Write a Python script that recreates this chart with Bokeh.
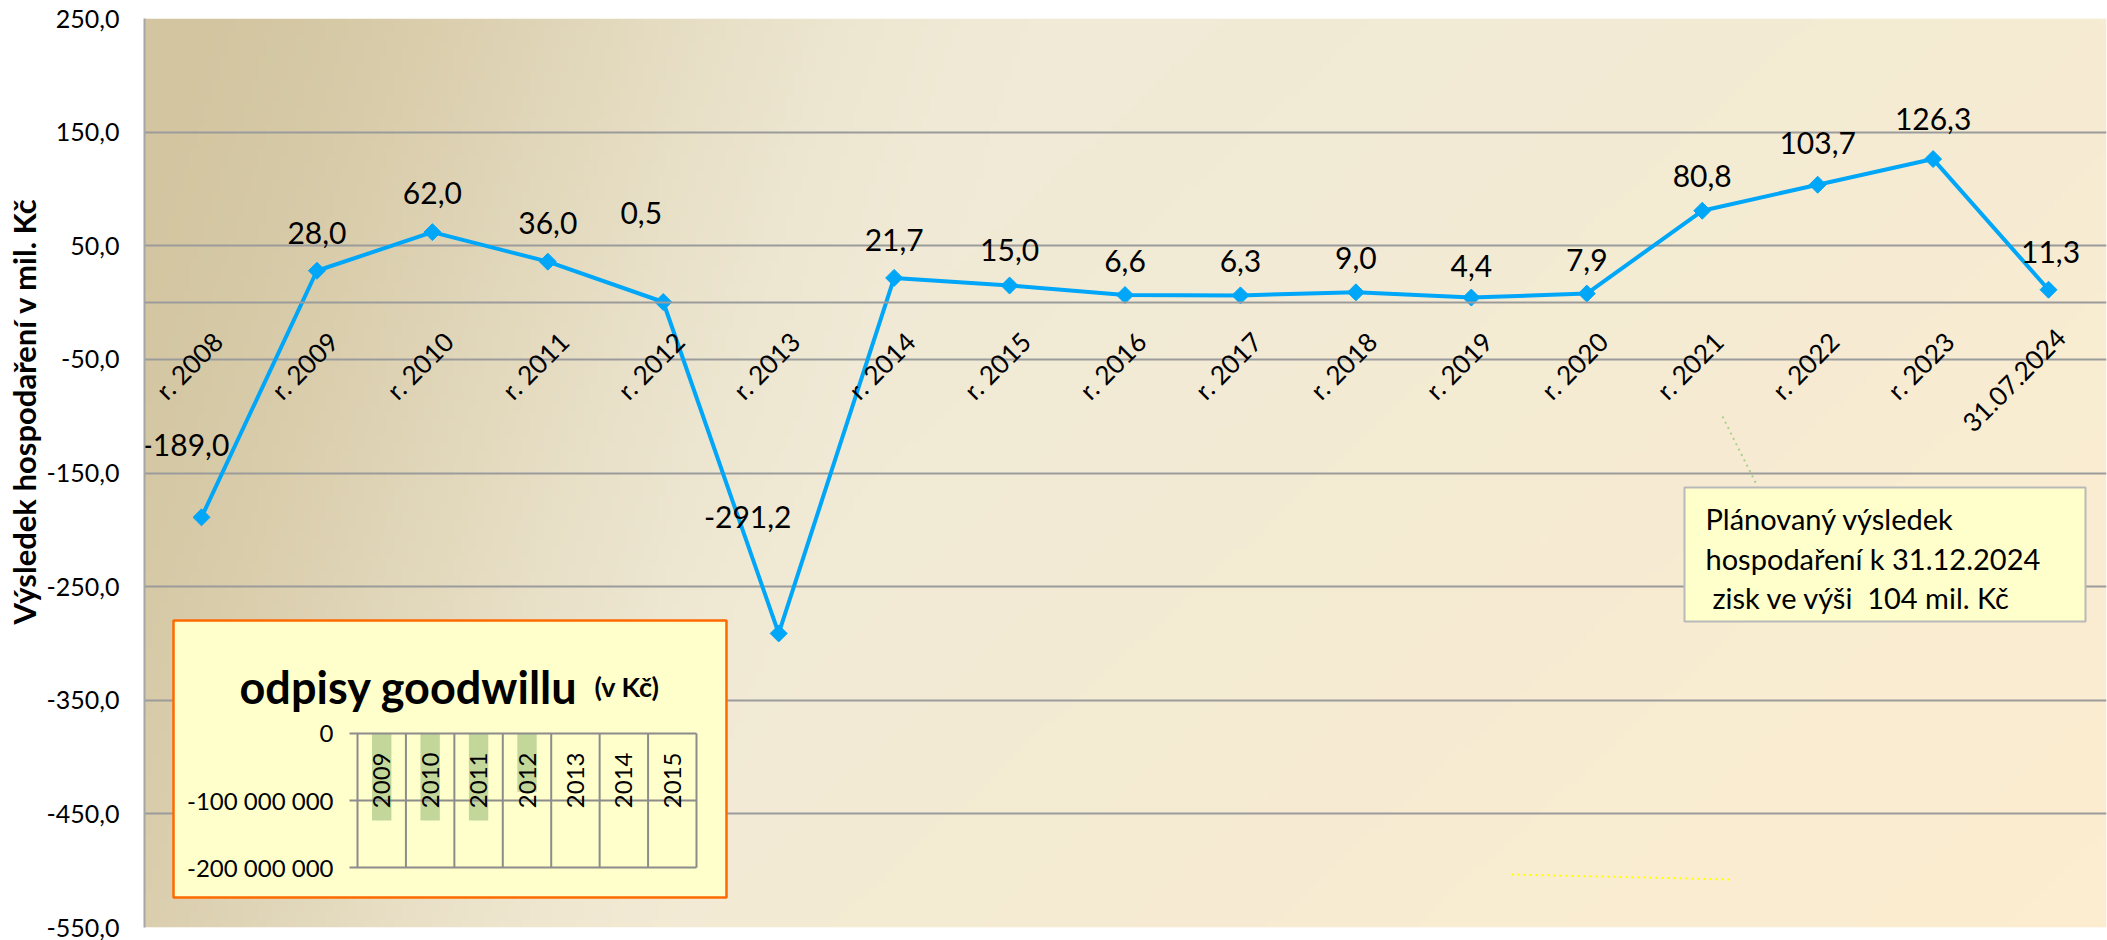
import numpy as np
from math import pi
from bokeh.plotting import figure
from bokeh.models import Range1d, FixedTicker, Span, Title
from bokeh.core.properties import value
from bokeh.embed import file_html
from bokeh.resources import INLINE

# ---------------- data ----------------
categories = ["r. 2008", "r. 2009", "r. 2010", "r. 2011", "r. 2012", "r. 2013",
              "r. 2014", "r. 2015", "r. 2016", "r. 2017", "r. 2018", "r. 2019",
              "r. 2020", "r. 2021", "r. 2022", "r. 2023", "31.07.2024"]
results = [-189.0, 28.0, 62.0, 36.0, 0.5, -291.2, 21.7, 15.0, 6.6, 6.3, 9.0,
           4.4, 7.9, 80.8, 103.7, 126.3, 11.3]
y_ticks = [250, 150, 50, -50, -150, -250, -350, -450, -550]
y_tick_labels = ["250,0", "150,0", "50,0", "-50,0", "-150,0", "-250,0",
                 "-350,0", "-450,0", "-550,0"]
y_title = "Výsledek hospodaření v mil. Kč"

inset_years = ["2009", "2010", "2011", "2012", "2013", "2014", "2015"]
inset_values = [-130e6, -130e6, -130e6, -87e6, 0, 0, 0]
inset_ticks = [0, -100e6, -200e6]
inset_tick_labels = ["0", "-100 000 000", "-200 000 000"]
inset_title = "odpisy goodwillu"
inset_unit = "(v Kč)"

note_lines = ["Plánovaný výsledek", "hospodaření k 31.12.2024",
              "zisk ve výši \u00a0104 mil. Kč"]

# label placement tweaks (pixels), style only
label_dx = [-16, 0, 0, 0, -22, -31, 0, 0, 0, 0, 0, 0, 0, 0, 0, 0, 2]
label_dy = [-72, -38, -39, -39, -89, -116, -38, -36, -34, -34, -34, -32, -34,
            -35, -42, -40, -38]

# ---------------- geometry (page pixels) ----------------
PW, PH = 2107, 940
FL, FR, FT, FB = 144, 2106, 18, 927
CAT0, STEP = 201, 115.44
FONT = "Lato"
BLUE = "#00a6f8"
GRID = "#9b9b9b"
TITLE_PX = 31
TITLE_LEN = 432          # approx. rendered length of the axis title
TITLE_CENTER = 408       # page y of its centre

x_start = (FL - CAT0) / STEP
x_end = (FR - CAT0) / STEP

p = figure(width=PW, height=PH, x_range=Range1d(x_start, x_end),
           y_range=Range1d(-550, 250), x_axis_type=None,
           output_backend="svg", toolbar_location=None,
           min_border_left=FL, min_border_right=PW - FR,
           min_border_top=FT, min_border_bottom=PH - FB,
           border_fill_color="white", outline_line_color=None)

# inset geometry
IL, IR, I0, I2 = 357, 696, 733, 867
iw = (IR - IL) / len(inset_years)
isc = 2e8 / (I2 - I0)
p.extra_x_ranges = {
    "px": Range1d(FL, FR),
    "ix": Range1d((FL - IL) / iw - 0.5, (FR - IL) / iw - 0.5),
}
p.extra_y_ranges = {
    "py": Range1d(FB, FT),
    "iy": Range1d(-2e8 - (FB - I2) * isc, (I0 - FT) * isc),
}

# ---------------- background gradient ----------------
H, W = 120, 260
xn = np.linspace(0, 1, W)[None, :]
yn = np.linspace(1, 0, H)[:, None]  # row 0 = bottom
c0 = np.array([211, 197, 160], float)
c1 = np.array([240, 234, 214], float)
c3 = np.array([252, 237, 208], float)
t1 = np.clip((xn + 0.15 * yn) / 0.45, 0, 1)
t1 = t1 * t1 * (3 - 2 * t1)
t2 = np.clip((xn + 0.5 * yn - 0.55) / 0.9, 0, 1)
col = c0 + (c1 - c0) * t1[..., None]
col = col + (c3 - col) * t2[..., None]
img = np.empty((H, W), dtype=np.uint32)
view = img.view(dtype=np.uint8).reshape((H, W, 4))
view[..., :3] = col.astype(np.uint8)
view[..., 3] = 255
p.image_rgba(image=[img], x=x_start, y=-550, dw=x_end - x_start, dh=800,
             level="image")

# ---------------- axes / grid ----------------
p.yaxis.ticker = FixedTicker(ticks=y_ticks)
p.yaxis.major_label_overrides = {t: l for t, l in zip(y_ticks, y_tick_labels)}
p.yaxis.major_tick_line_color = None
p.yaxis.major_tick_out = 0
p.yaxis.major_tick_in = 0
p.yaxis.minor_tick_line_color = None
p.yaxis.minor_tick_out = 0
p.yaxis.axis_line_color = "#a6a6a6"
p.yaxis.axis_line_width = 2
p.yaxis.major_label_standoff = 25
p.yaxis.major_label_text_font = FONT
p.yaxis.major_label_text_font_size = "25px"
p.yaxis.major_label_text_color = "black"
p.ygrid.ticker = FixedTicker(ticks=y_ticks)
p.ygrid.grid_line_color = GRID
p.ygrid.grid_line_width = 2
p.add_layout(Span(location=0, dimension="width", line_color=GRID, line_width=2))

p.add_layout(Title(text=y_title, align="left",
                   offset=FB - (TITLE_CENTER + TITLE_LEN / 2), standoff=2,
                   text_font=FONT, text_font_style="bold",
                   text_font_size=f"{TITLE_PX}px", text_color="black"), "left")

# ---------------- inset chart ----------------
p.quad(left=173, right=726, top=620, bottom=897, x_range_name="px",
       y_range_name="py", fill_color="#ffffcc", line_color="#ff6a00",
       line_width=2.5)
idx_in = list(range(len(inset_years)))
p.vbar(x=idx_in, top=0, bottom=inset_values, width=0.4, fill_color="#c4d79b",
       line_color=None, x_range_name="ix", y_range_name="iy")
n_in = len(inset_years)
p.segment(x0=[-0.5 - 8 / iw] * 3, x1=[n_in - 0.5] * 3, y0=inset_ticks,
          y1=inset_ticks, line_color="#8c8c8c", line_width=2,
          x_range_name="ix", y_range_name="iy")
bounds = [i - 0.5 for i in range(n_in + 1)]
p.segment(x0=bounds, x1=bounds, y0=[inset_ticks[0]] * len(bounds),
          y1=[inset_ticks[-1]] * len(bounds), line_color="#8c8c8c",
          line_width=2, x_range_name="ix", y_range_name="iy")
p.text(x=idx_in, y=[0] * n_in, text=inset_years, angle=pi / 2,
       text_align="right", text_baseline="middle", y_offset=19,
       text_font=value(FONT), text_font_size="24px", text_color="black",
       x_range_name="ix", y_range_name="iy")
p.text(x=[333] * 3, y=inset_ticks, text=inset_tick_labels, text_align="right",
       text_baseline="middle", text_font=value(FONT), text_font_size="24px",
       text_color="black", x_range_name="px", y_range_name="iy")
p.text(x=[239], y=[686], text=[inset_title], text_align="left",
       text_baseline="alphabetic", text_font=value(FONT),
       text_font_style="bold", text_font_size="45px", text_color="black",
       x_range_name="px", y_range_name="py")
p.text(x=[659], y=[686], text=[inset_unit], text_align="right",
       text_baseline="alphabetic", text_font=value(FONT),
       text_font_style="bold", text_font_size="27px", text_color="black",
       x_range_name="px", y_range_name="py")

# ---------------- note box ----------------
p.line(x=[1722, 1757], y=[416, 486], line_color="#a9d08e", line_width=2,
       line_dash="dotted", x_range_name="px", y_range_name="py")
p.line(x=[1511, 1731], y=[874, 879], line_color="#ffff00", line_width=2,
       line_dash="dotted", x_range_name="px", y_range_name="py")
p.quad(left=1684, right=2085, top=487, bottom=621, x_range_name="px",
       y_range_name="py", fill_color="#ffffcc", line_color="#b9b9b9",
       line_width=2)
p.text(x=[1705, 1705, 1712], y=[518, 558, 597], text=note_lines,
       text_align="left", text_baseline="middle", text_font=value(FONT),
       text_font_size="29px", text_color="black", x_range_name="px",
       y_range_name="py")

# ---------------- main series ----------------
idx = list(range(len(categories)))
p.line(x=idx, y=results, line_color=BLUE, line_width=4)
p.scatter(x=idx, y=results, marker="square", angle=pi / 4, size=12,
          fill_color=BLUE, line_color=BLUE)

value_labels = [f"{v:.1f}".replace(".", ",") for v in results]
p.text(x=idx, y=results, text=value_labels, x_offset=label_dx,
       y_offset=label_dy, text_align="center", text_baseline="middle",
       text_font=value(FONT), text_font_size="30px", text_color="black")

p.text(x=idx, y=[0] * len(idx), text=categories, angle=pi / 4,
       text_align="right", text_baseline="top", x_offset=5, y_offset=23,
       text_font=value(FONT), text_font_size="26px", text_color="black")

open("out.html", "w").write(file_html(p, INLINE))
